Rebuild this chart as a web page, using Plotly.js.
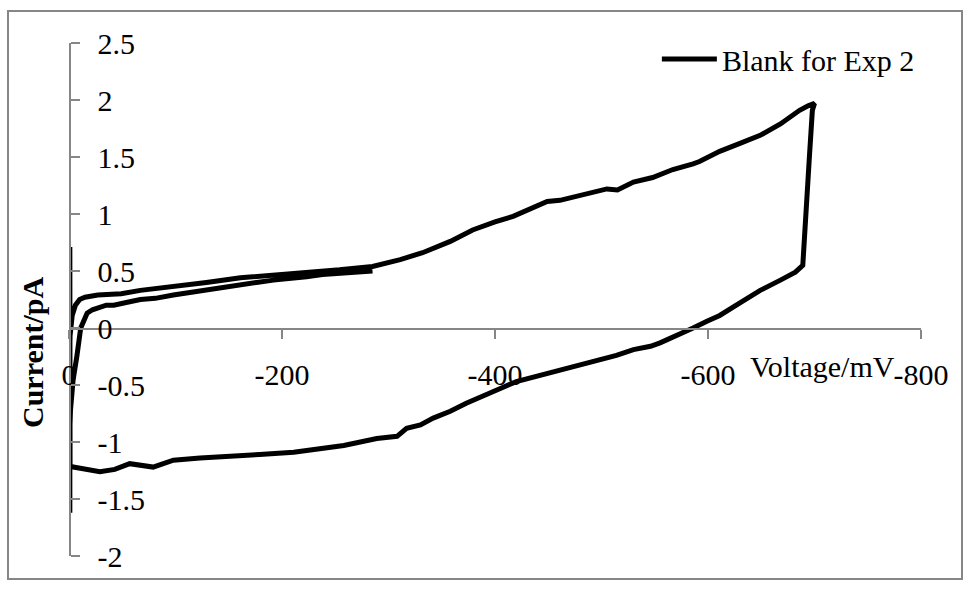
<!DOCTYPE html>
<html>
<head>
<meta charset="utf-8">
<script src="https://cdn.plot.ly/plotly-3.0.1.min.js"></script>
<style>
  html, body { margin: 0; padding: 0; background: #ffffff; }
  #chart { width: 969px; height: 590px; }
  #chart .xtick text, #chart .ytick text { font-family: "Liberation Serif", serif !important; }
</style>
</head>
<body>
<div id="chart"></div>
<script>
// Segment 1: initial sweep from about -285 mV toward 0 (inner upper line)
const startV = [-285, -270, -254, -238, -223, -207, -192, -176, -161, -145, -129, -113, -98, -81, -67, -57, -49, -42, -35, -27, -22, -17, -11, -7.5, -3.8, -1.4, -0.5];
const startI = [0.50, 0.49, 0.49, 0.47, 0.45, 0.44, 0.42, 0.40, 0.38, 0.35, 0.33, 0.31, 0.29, 0.26, 0.25, 0.23, 0.21, 0.20, 0.20, 0.18, 0.16, 0.13, 0.00, -0.24, -0.46, -0.72, -0.98];

// Segment 2: switching spike at 0 mV
const spikeV = [-0.8, -0.8, -0.8];
const spikeI = [-1.62, 0.71, -1.21];

// Segment 3: sweep from 0 to -700 mV (lower branch)
const forwardV = [-1, -4, -15, -29, -43, -57, -79, -98, -123, -148, -179, -211, -236, -258, -289, -308, -317, -330, -342, -358, -373, -389, -405, -420, -436, -452, -467, -483, -499, -514, -530, -546, -555, -570, -586, -599, -611, -630, -649, -668, -682, -689, -692, -695, -698, -700];
const forwardI = [-1.21, -1.22, -1.24, -1.26, -1.24, -1.19, -1.22, -1.16, -1.14, -1.13, -1.11, -1.09, -1.06, -1.03, -0.97, -0.95, -0.88, -0.85, -0.79, -0.73, -0.66, -0.59, -0.53, -0.47, -0.43, -0.39, -0.35, -0.32, -0.28, -0.24, -0.19, -0.16, -0.13, -0.07, 0.00, 0.06, 0.11, 0.22, 0.33, 0.42, 0.49, 0.55, 0.95, 1.47, 1.91, 1.97];

// Segment 4: return sweep from -700 mV to 0 (outer upper line)
const returnV = [-700, -694, -686, -668, -649, -630, -611, -592, -586, -567, -548, -530, -515, -505, -489, -473, -461, -449, -433, -417, -400, -379, -358, -332, -311, -285, -254, -223, -192, -161, -129, -98, -67, -49, -35, -27, -15, -10, -6, -3, -1, -0.3];
const returnI = [1.97, 1.95, 1.91, 1.79, 1.69, 1.62, 1.55, 1.46, 1.44, 1.39, 1.32, 1.28, 1.21, 1.22, 1.18, 1.15, 1.12, 1.11, 1.04, 0.98, 0.93, 0.86, 0.76, 0.66, 0.60, 0.54, 0.51, 0.49, 0.46, 0.44, 0.40, 0.37, 0.33, 0.30, 0.30, 0.29, 0.27, 0.25, 0.20, 0.11, -0.07, -0.37];

const seriesName = "Blank for Exp 2";
const xTickVals = [0, -200, -400, -600, -800];
const xTickText = ["0", "-200", "-400", "-600", "-800"];
const yTickVals = [-2, -1.5, -1, -0.5, 0, 0.5, 1, 1.5, 2, 2.5];
const yTickText = ["-2", "-1.5", "-1", "-0.5", "0", "0.5", "1", "1.5", "2", "2.5"];
const xTitle = "Voltage/mV";
const yTitle = "Current/pA";

const voltage = [].concat(startV, spikeV, forwardV, returnV);
const current = [].concat(startI, spikeI, forwardI, returnI);

const FONT = "Liberation Serif";
const AXIS_GRAY = "#868686";

const trace = {
  x: voltage,
  y: current,
  mode: "lines",
  name: seriesName,
  line: { color: "#000000", width: 5 },
  showlegend: true
};

const yMin = -2, yMax = 2.5;

const layout = {
  width: 969,
  height: 590,
  margin: { l: 69, r: 48, t: 43, b: 34 },
  paper_bgcolor: "#ffffff",
  plot_bgcolor: "#ffffff",
  font: { family: FONT, size: 30, color: "#000000" },
  showlegend: true,
  legend: {
    x: 0.690, y: 0.969, xanchor: "left", yanchor: "middle",
    itemwidth: 55,
    bgcolor: "rgba(0,0,0,0)", borderwidth: 0,
    font: { family: FONT, size: 30, color: "#000000" }
  },
  xaxis: {
    range: [0, -800],
    autorange: false,
    anchor: "free",
    position: (0 - yMin) / (yMax - yMin),
    side: "bottom",
    showgrid: false,
    zeroline: false,
    showline: true,
    linecolor: AXIS_GRAY,
    linewidth: 1.5,
    ticks: "outside",
    ticklen: 9,
    tickwidth: 1.5,
    tickcolor: AXIS_GRAY,
    tickmode: "array",
    tickvals: xTickVals,
    ticktext: xTickText,
    ticklabelstandoff: 10,
    tickfont: { family: FONT, size: 30, color: "#000000" }
  },
  yaxis: {
    range: [yMin, yMax],
    autorange: false,
    anchor: "free",
    position: 0,
    side: "right",
    showgrid: false,
    zeroline: false,
    showline: true,
    linecolor: AXIS_GRAY,
    linewidth: 1.5,
    ticks: "outside",
    ticklen: 9,
    tickwidth: 1.5,
    tickcolor: AXIS_GRAY,
    tickmode: "array",
    tickvals: yTickVals,
    ticktext: yTickText,
    ticklabelstandoff: 12,
    tickfont: { family: FONT, size: 30, color: "#000000" }
  },
  shapes: [{
    type: "rect", xref: "paper", yref: "paper",
    x0: (8 - 69) / 852, x1: (962 - 69) / 852,
    y0: (556 - 579) / 513, y1: (556 - 11) / 513,
    line: { color: AXIS_GRAY, width: 2 },
    fillcolor: "rgba(0,0,0,0)",
    layer: "below"
  }],
  annotations: [
    {
      text: xTitle, xref: "paper", yref: "paper",
      x: (822 - 69) / 852, y: (556 - 366) / 513,
      xanchor: "center", yanchor: "middle", showarrow: false,
      font: { family: FONT, size: 30, color: "#000000" }
    },
    {
      text: "<b>" + yTitle + "</b>", xref: "paper", yref: "paper",
      x: (32 - 69) / 852, y: (556 - 353) / 513,
      xanchor: "center", yanchor: "middle", showarrow: false, textangle: -90,
      font: { family: FONT, size: 30, color: "#000000" }
    }
  ]
};

Plotly.newPlot("chart", [trace], layout, { displayModeBar: false, staticPlot: true });
</script>
</body>
</html>
